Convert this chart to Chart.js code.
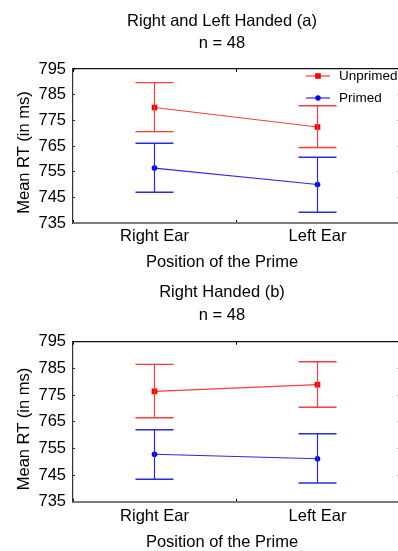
<!DOCTYPE html>
<html><head><meta charset="utf-8">
<script src="https://cdn.jsdelivr.net/npm/chart.js@4"></script>
<style>
html,body{margin:0;padding:0;background:#fff;overflow:hidden;width:398px;height:551px}
.wrap{position:absolute;left:0;width:400px}
#w1{top:0;height:275px}
#w2{top:275px;height:276px}
canvas{display:block}
</style></head><body>
<div class="wrap" id="w1"><canvas id="c1"></canvas></div>
<div class="wrap" id="w2"><canvas id="c2"></canvas></div>
<script>
// ---- data ----
const categories = ['Right Ear', 'Left Ear'];
const seriesNames = ['Unprimed', 'Primed'];
const yTickValues = [735, 745, 755, 765, 775, 785, 795];
const xAxisTitle = 'Position of the Prime';
const yAxisTitle = 'Mean RT (in ms)';

// chart (a)
const titleA = ['Right and Left Handed (a)', 'n = 48'];
const unprimedA = [780.0, 772.4];
const unprimedALow = [770.6, 764.4];
const unprimedAHigh = [789.7, 780.7];
const primedA = [756.4, 750.0];
const primedALow = [747.0, 739.2];
const primedAHigh = [766.1, 760.6];

// chart (b)
const titleB = ['Right Handed (b)', 'n = 48'];
const unprimedB = [776.4, 778.9];
const unprimedBLow = [766.5, 770.4];
const unprimedBHigh = [786.5, 787.5];
const primedB = [752.8, 751.1];
const primedBLow = [743.4, 742.0];
const primedBHigh = [762.0, 760.5];

// ---- styles ----
const FONT = '"Liberation Sans", Arial, sans-serif';
const RED = '#ff0000', RED_LINE = '#ff3b3b';
const BLUE = '#0000ff', BLUE_LINE = '#2a2ae0';

function errDatasets(low, high, color) {
  return categories.map((c, i) => ({
    data: [{x: c, y: low[i]}, {x: c, y: high[i]}],
    borderColor: color, borderWidth: 1.2,
    pointStyle: 'line', pointRadius: 19, pointHoverRadius: 19,
    pointBorderColor: color, pointBorderWidth: 1.4, pointBackgroundColor: color,
    fill: false, tension: 0
  }));
}

const textPlugin = {
  id: 'texts',
  afterDraw(chart, args, opts) {
    const ctx = chart.ctx;
    ctx.save();
    ctx.fillStyle = '#000';
    ctx.font = '16.5px ' + FONT;
    ctx.textAlign = 'center';
    ctx.textBaseline = 'middle';
    opts.lines.forEach(l => ctx.fillText(l.text, l.x, l.y));
    ctx.save();
    ctx.translate(opts.yTitle.x, opts.yTitle.y);
    ctx.rotate(-Math.PI / 2);
    ctx.fillText(opts.yTitle.text, 0, 0);
    ctx.restore();
    if (opts.legend) {
      ctx.font = '13.5px ' + FONT;
      ctx.textAlign = 'left';
      opts.legend.forEach(it => {
        ctx.strokeStyle = it.line; ctx.lineWidth = 1.2;
        ctx.beginPath(); ctx.moveTo(306, it.y); ctx.lineTo(330, it.y); ctx.stroke();
        ctx.fillStyle = it.color;
        if (it.style === 'rect') { ctx.fillRect(318 - 2.8, it.y - 2.8, 5.6, 5.6); }
        else { ctx.beginPath(); ctx.arc(318, it.y, 2.7, 0, Math.PI * 2); ctx.fill(); }
        ctx.fillStyle = '#000';
        ctx.fillText(it.text, 339, it.y);
      });
    }
    ctx.restore();
  }
};

function makeChart(id, d) {
  const yTicksCb = s => { s.ticks = yTickValues.map(v => ({value: v})); };
  return new Chart(document.getElementById(id), {
    type: 'line',
    data: {
      labels: categories,
      datasets: [
        ...errDatasets(d.uLow, d.uHigh, RED_LINE),
        ...errDatasets(d.pLow, d.pHigh, BLUE_LINE),
        {label: seriesNames[0], data: d.u, borderColor: RED_LINE, borderWidth: 1.2,
         pointStyle: 'rect', pointRadius: 4, pointBorderWidth: 0,
         pointBackgroundColor: RED, pointBorderColor: RED, tension: 0},
        {label: seriesNames[1], data: d.p, borderColor: BLUE_LINE, borderWidth: 1.2,
         pointStyle: 'circle', pointRadius: 2.8, pointBorderWidth: 0,
         pointBackgroundColor: BLUE, pointBorderColor: BLUE, tension: 0}
      ]
    },
    options: {
      responsive: true, maintainAspectRatio: false, animation: false, events: [],
      layout: {autoPadding: false, padding: {top: d.padTop, right: 1, bottom: 0, left: 0}},
      plugins: {
        legend: {display: false}, tooltip: {enabled: false},
        texts: d.texts
      },
      scales: {
        x: {
          type: 'category', position: 'bottom', offset: true,
          grid: {display: true, offset: true, drawOnChartArea: false, drawTicks: true, tickLength: -3, color: '#000', lineWidth: 1},
          border: {display: true, color: '#7a7a7a', width: 2},
          ticks: {color: '#000', font: {size: 16.5, family: FONT}, padding: d.xPad, maxRotation: 0, autoSkip: false},
          afterFit: s => { s.height = d.xHeight; s.paddingLeft = 0; s.paddingRight = 0; }
        },
        x2: {
          type: 'category', position: 'top', offset: true,
          grid: {display: true, offset: true, drawOnChartArea: false, drawTicks: true, tickLength: -3, color: '#000', lineWidth: 1},
          border: {display: true, color: '#111', width: 1.2},
          ticks: {display: false},
          afterFit: s => { s.height = 0; s.paddingLeft = 0; s.paddingRight = 0; }
        },
        y: {
          type: 'linear', position: 'left', min: 735, max: 795,
          afterBuildTicks: yTicksCb,
          grid: {display: true, drawOnChartArea: false, drawTicks: true, tickLength: -2, color: '#333', lineWidth: 1},
          border: {display: true, color: '#333', width: 1.2},
          ticks: {color: '#000', font: {size: 16.5, family: FONT}, padding: 9},
          afterFit: s => { s.width = 73; s.paddingTop = 0; s.paddingBottom = 0; }
        },
        y2: {
          type: 'linear', position: 'right', min: 735, max: 795,
          afterBuildTicks: yTicksCb,
          grid: {display: true, drawOnChartArea: false, drawTicks: true, tickLength: -2, color: '#aaa', lineWidth: 1},
          border: {display: true, color: '#333', width: 1},
          ticks: {display: false},
          afterFit: s => { s.width = 0; s.paddingTop = 0; s.paddingBottom = 0; }
        }
      }
    },
    plugins: [textPlugin]
  });
}

makeChart('c1', {
  u: unprimedA, uLow: unprimedALow, uHigh: unprimedAHigh,
  p: primedA, pLow: primedALow, pHigh: primedAHigh,
  padTop: 69, xHeight: 52, xPad: 7,
  texts: {
    lines: [
      {text: titleA[0], x: 222, y: 21},
      {text: titleA[1], x: 222, y: 43.5},
      {text: xAxisTitle, x: 222, y: 262}
    ],
    yTitle: {text: yAxisTitle, x: 24.5, y: 152.5},
    legend: [
      {text: seriesNames[0], y: 76, color: RED, line: RED_LINE, style: 'rect'},
      {text: seriesNames[1], y: 98, color: BLUE, line: BLUE_LINE, style: 'circle'}
    ]
  }
});

makeChart('c2', {
  u: unprimedB, uLow: unprimedBLow, uHigh: unprimedBHigh,
  p: primedB, pLow: primedBLow, pHigh: primedBHigh,
  padTop: 66.7, xHeight: 49.3, xPad: 8,
  texts: {
    lines: [
      {text: titleB[0], x: 222, y: 17},
      {text: titleB[1], x: 222, y: 40},
      {text: xAxisTitle, x: 222, y: 267.5}
    ],
    yTitle: {text: yAxisTitle, x: 24.5, y: 154}
  }
});
</script>
</body></html>
